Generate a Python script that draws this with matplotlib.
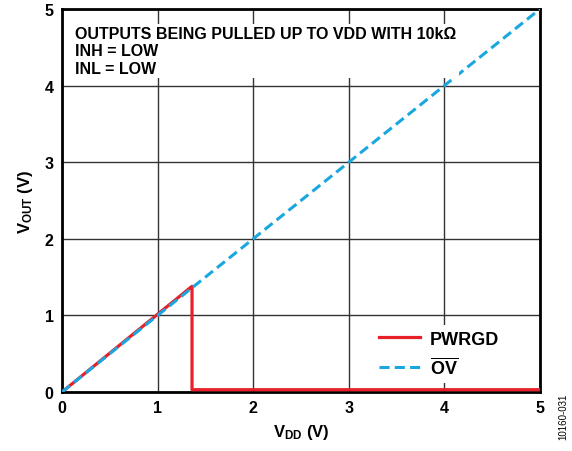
import matplotlib
matplotlib.use("Agg")
import matplotlib.pyplot as plt

plt.rcParams['font.family'] = ['Liberation Sans', 'DejaVu Sans']
plt.rcParams['mathtext.fontset'] = 'custom'
plt.rcParams['mathtext.rm'] = 'Liberation Sans:bold'
plt.rcParams['mathtext.bf'] = 'Liberation Sans:bold'
plt.rcParams['mathtext.it'] = 'Liberation Sans:bold'

# Data
pwrgd_x = [0.0, 1.36, 1.36, 5.0]
pwrgd_y = [0.0, 1.38, 0.03, 0.03]
ov_x = [0.0, 5.0]
ov_y = [0.0, 5.0]
ticks = [0, 1, 2, 3, 4, 5]

fig = plt.figure(figsize=(5.72, 4.52), dpi=100)
ax = fig.add_axes([62/572, 1-393/452, 478/572, 383/452])

ax.plot(pwrgd_x, pwrgd_y, color='#e8202a', lw=2.3, label='PWRGD', zorder=3)
ax.plot(ov_x, ov_y, color='#1aa7e0', lw=2.2, ls=(0, (3.3, 1.7)), label=r'$\overline{\mathrm{OV}}$', zorder=4)

ax.set_xlim(0, 5)
ax.set_ylim(0, 5)
ax.set_xticks(ticks)
ax.set_yticks(ticks)
ax.grid(True, color='#333333', lw=1.0)
for s in ax.spines.values():
    s.set_linewidth(2.0)
    s.set_color('black')
ax.tick_params(direction='in', length=0, labelsize=11.5, pad=6)
for lbl in ax.get_xticklabels() + ax.get_yticklabels():
    lbl.set_fontweight('bold')

ax.set_xlabel(r'$\mathrm{V_{DD}}$ (V)', fontsize=12, fontweight='bold', labelpad=5)
ax.set_ylabel(r'$\mathrm{V_{OUT}}$ (V)', fontsize=12, fontweight='bold', labelpad=7)

ax.text(0.028, 0.955, 'OUTPUTS BEING PULLED UP TO VDD WITH 10k\u03a9\nINH = LOW\nINL = LOW',
        transform=ax.transAxes, ha='left', va='top', fontsize=11.5, fontweight='bold',
        linespacing=1.18, zorder=5,
        bbox=dict(facecolor='white', edgecolor='none', pad=2))

leg = ax.legend(loc='lower right', bbox_to_anchor=(0.945, 0.0), frameon=True, fancybox=False,
                edgecolor='none', framealpha=1, prop={'weight': 'bold', 'size': 13},
                handlelength=2.3, handletextpad=0.55, borderpad=0.3, labelspacing=0.5)
leg.set_zorder(6)

fig.text(0.985, 0.078, '10160-031', rotation=90, ha='center', va='center', fontsize=7)

fig.savefig('out.png', dpi=100)
